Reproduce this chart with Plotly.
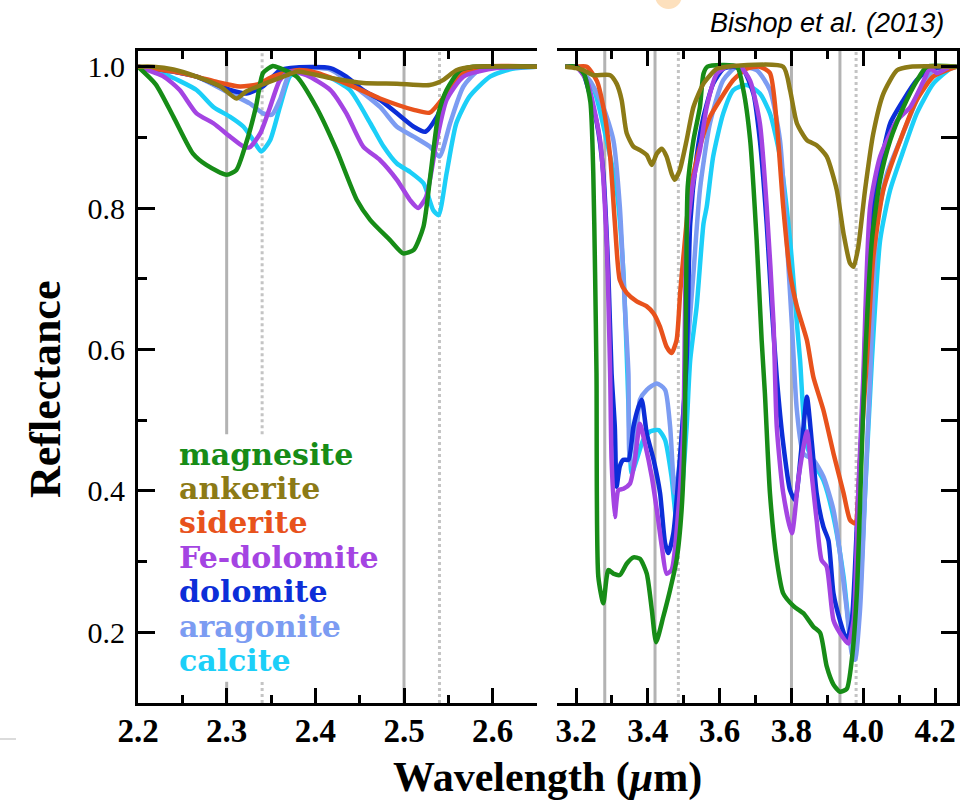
import plotly.graph_objects as go

# ---------------- data ----------------
SERIES = ["magnesite", "ankerite", "siderite", "Fe-dolomite", "dolomite", "aragonite", "calcite"]
COLORS = ["#178c17", "#8c7a16", "#e8521c", "#a444e2", "#0c2ed8", "#7c9cf2", "#1ccff8"]

# left panel (2.2 - 2.65 um)
magnesite_l_wl = [2.200, 2.220, 2.240, 2.262, 2.277, 2.300, 2.311, 2.322, 2.333, 2.341, 2.352, 2.360, 2.379, 2.401, 2.424, 2.447, 2.462, 2.484, 2.499, 2.511, 2.522, 2.530, 2.539, 2.548, 2.563, 2.578, 2.650]
magnesite_l_r = [1.000, 0.975, 0.929, 0.877, 0.861, 0.847, 0.854, 0.892, 0.943, 0.991, 1.001, 0.998, 0.986, 0.943, 0.882, 0.811, 0.783, 0.755, 0.736, 0.741, 0.774, 0.849, 0.934, 0.967, 0.995, 1.000, 1.000]
ankerite_l_wl = [2.200, 2.217, 2.240, 2.266, 2.293, 2.311, 2.322, 2.345, 2.368, 2.379, 2.417, 2.454, 2.492, 2.529, 2.544, 2.559, 2.578, 2.650]
ankerite_l_r = [1.000, 1.000, 0.996, 0.986, 0.972, 0.955, 0.965, 0.977, 0.988, 0.993, 0.984, 0.977, 0.976, 0.974, 0.981, 0.995, 1.000, 1.000]
siderite_l_wl = [2.200, 2.240, 2.266, 2.290, 2.315, 2.335, 2.352, 2.379, 2.400, 2.435, 2.473, 2.511, 2.529, 2.548, 2.567, 2.590, 2.650]
siderite_l_r = [1.000, 0.993, 0.986, 0.978, 0.972, 0.975, 0.986, 0.995, 0.992, 0.976, 0.955, 0.939, 0.935, 0.962, 0.991, 1.000, 1.000]
fedolomite_l_wl = [2.200, 2.229, 2.247, 2.266, 2.285, 2.304, 2.319, 2.326, 2.338, 2.349, 2.360, 2.371, 2.390, 2.417, 2.435, 2.454, 2.473, 2.492, 2.507, 2.516, 2.525, 2.537, 2.548, 2.567, 2.604, 2.650]
fedolomite_l_r = [1.000, 0.986, 0.967, 0.934, 0.920, 0.901, 0.887, 0.886, 0.906, 0.943, 0.981, 0.993, 0.988, 0.967, 0.934, 0.887, 0.868, 0.840, 0.811, 0.800, 0.816, 0.896, 0.953, 0.986, 0.998, 1.000]
dolomite_l_wl = [2.200, 2.240, 2.266, 2.304, 2.322, 2.341, 2.360, 2.379, 2.417, 2.435, 2.454, 2.473, 2.492, 2.511, 2.524, 2.537, 2.552, 2.567, 2.590, 2.650]
dolomite_l_r = [1.000, 0.993, 0.986, 0.967, 0.962, 0.972, 0.995, 0.999, 0.998, 0.986, 0.967, 0.953, 0.934, 0.915, 0.908, 0.929, 0.972, 0.995, 1.000, 1.000]
aragonite_l_wl = [2.200, 2.240, 2.266, 2.304, 2.326, 2.341, 2.351, 2.360, 2.371, 2.382, 2.417, 2.435, 2.473, 2.492, 2.511, 2.529, 2.540, 2.552, 2.567, 2.585, 2.650]
aragonite_l_r = [1.000, 0.993, 0.986, 0.962, 0.948, 0.934, 0.932, 0.953, 0.991, 0.998, 0.996, 0.981, 0.943, 0.915, 0.901, 0.887, 0.873, 0.920, 0.972, 0.995, 1.000]
calcite_l_wl = [2.200, 2.229, 2.266, 2.285, 2.304, 2.319, 2.330, 2.339, 2.349, 2.360, 2.371, 2.379, 2.417, 2.439, 2.462, 2.477, 2.492, 2.507, 2.522, 2.533, 2.539, 2.548, 2.559, 2.574, 2.597, 2.622, 2.650]
calcite_l_r = [1.000, 0.990, 0.967, 0.943, 0.929, 0.915, 0.896, 0.880, 0.896, 0.943, 0.986, 0.993, 0.984, 0.967, 0.920, 0.887, 0.863, 0.851, 0.835, 0.797, 0.790, 0.849, 0.920, 0.958, 0.986, 0.997, 1.000]

# right panel (3.15 - 4.26 um)
magnesite_r_wl = [3.170, 3.200, 3.222, 3.240, 3.248, 3.253, 3.257, 3.262, 3.276, 3.290, 3.304, 3.322, 3.341, 3.360, 3.378, 3.397, 3.411, 3.423, 3.443, 3.462, 3.480, 3.494, 3.503, 3.507, 3.511, 3.527, 3.545, 3.555, 3.566, 3.648, 3.666, 3.685, 3.703, 3.717, 3.726, 3.740, 3.759, 3.777, 3.806, 3.833, 3.861, 3.880, 3.898, 3.917, 3.935, 3.954, 3.968, 3.982, 3.995, 4.005, 4.024, 4.047, 4.075, 4.112, 4.149, 4.177, 4.260]
magnesite_r_r = [1.000, 1.000, 0.990, 0.950, 0.850, 0.710, 0.566, 0.279, 0.241, 0.288, 0.283, 0.281, 0.297, 0.306, 0.304, 0.283, 0.232, 0.186, 0.222, 0.260, 0.302, 0.373, 0.491, 0.700, 0.830, 0.896, 0.943, 0.990, 1.000, 1.000, 0.967, 0.896, 0.755, 0.613, 0.538, 0.397, 0.302, 0.255, 0.237, 0.227, 0.208, 0.199, 0.152, 0.126, 0.116, 0.120, 0.161, 0.255, 0.444, 0.585, 0.755, 0.840, 0.896, 0.943, 0.980, 1.000, 1.000]
ankerite_r_wl = [3.170, 3.200, 3.220, 3.248, 3.295, 3.313, 3.327, 3.341, 3.360, 3.378, 3.397, 3.411, 3.425, 3.439, 3.452, 3.466, 3.475, 3.489, 3.508, 3.527, 3.555, 3.592, 3.620, 3.777, 3.796, 3.815, 3.843, 3.870, 3.898, 3.926, 3.945, 3.963, 3.973, 3.986, 4.005, 4.028, 4.056, 4.094, 4.131, 4.260]
ankerite_r_r = [1.000, 0.998, 0.995, 0.988, 0.988, 0.976, 0.953, 0.906, 0.887, 0.882, 0.875, 0.861, 0.877, 0.884, 0.873, 0.849, 0.840, 0.854, 0.896, 0.943, 0.976, 0.997, 1.000, 1.000, 0.967, 0.920, 0.896, 0.889, 0.873, 0.826, 0.764, 0.722, 0.717, 0.745, 0.826, 0.906, 0.962, 0.995, 1.000, 1.000]
siderite_r_wl = [3.170, 3.200, 3.230, 3.258, 3.276, 3.295, 3.308, 3.322, 3.341, 3.369, 3.397, 3.416, 3.434, 3.452, 3.466, 3.480, 3.490, 3.499, 3.518, 3.545, 3.573, 3.601, 3.638, 3.675, 3.712, 3.740, 3.759, 3.777, 3.796, 3.815, 3.843, 3.861, 3.889, 3.917, 3.945, 3.963, 3.977, 3.991, 4.010, 4.028, 4.056, 4.103, 4.149, 4.195, 4.242, 4.260]
siderite_r_r = [1.000, 1.000, 1.000, 0.980, 0.943, 0.873, 0.780, 0.698, 0.680, 0.668, 0.661, 0.651, 0.632, 0.604, 0.595, 0.613, 0.680, 0.731, 0.826, 0.887, 0.929, 0.953, 0.981, 0.997, 1.000, 0.991, 0.920, 0.802, 0.708, 0.661, 0.613, 0.561, 0.514, 0.453, 0.397, 0.359, 0.354, 0.444, 0.585, 0.731, 0.826, 0.896, 0.953, 0.986, 0.997, 1.000]
fedolomite_r_wl = [3.170, 3.200, 3.230, 3.267, 3.285, 3.295, 3.299, 3.308, 3.318, 3.332, 3.350, 3.364, 3.378, 3.392, 3.411, 3.425, 3.439, 3.452, 3.466, 3.485, 3.499, 3.508, 3.527, 3.545, 3.564, 3.592, 3.620, 3.657, 3.685, 3.712, 3.731, 3.750, 3.759, 3.777, 3.801, 3.820, 3.843, 3.857, 3.870, 3.884, 3.898, 3.917, 3.935, 3.958, 3.973, 3.986, 4.000, 4.019, 4.047, 4.094, 4.131, 4.168, 4.186, 4.205, 4.242, 4.260]
fedolomite_r_r = [1.000, 1.000, 0.980, 0.896, 0.755, 0.566, 0.444, 0.363, 0.401, 0.403, 0.410, 0.444, 0.495, 0.467, 0.420, 0.373, 0.321, 0.283, 0.288, 0.373, 0.491, 0.755, 0.840, 0.882, 0.943, 0.990, 1.000, 1.000, 0.980, 0.920, 0.802, 0.637, 0.491, 0.397, 0.340, 0.420, 0.484, 0.420, 0.359, 0.302, 0.293, 0.217, 0.199, 0.184, 0.217, 0.397, 0.561, 0.802, 0.873, 0.924, 0.943, 0.980, 0.998, 0.991, 1.000, 1.000]
dolomite_r_wl = [3.170, 3.200, 3.220, 3.258, 3.276, 3.290, 3.299, 3.308, 3.313, 3.322, 3.332, 3.346, 3.360, 3.374, 3.383, 3.397, 3.416, 3.434, 3.448, 3.457, 3.471, 3.489, 3.508, 3.518, 3.536, 3.555, 3.582, 3.610, 3.638, 3.666, 3.694, 3.712, 3.731, 3.745, 3.759, 3.777, 3.796, 3.810, 3.829, 3.843, 3.857, 3.870, 3.889, 3.903, 3.917, 3.935, 3.954, 3.968, 3.982, 4.000, 4.019, 4.047, 4.075, 4.112, 4.149, 4.186, 4.260]
dolomite_r_r = [1.000, 1.000, 0.990, 0.920, 0.849, 0.708, 0.566, 0.491, 0.406, 0.435, 0.444, 0.444, 0.491, 0.519, 0.529, 0.481, 0.444, 0.397, 0.326, 0.312, 0.340, 0.444, 0.585, 0.778, 0.873, 0.929, 0.976, 0.997, 1.000, 0.995, 0.962, 0.896, 0.778, 0.661, 0.561, 0.467, 0.401, 0.387, 0.467, 0.533, 0.467, 0.397, 0.349, 0.330, 0.255, 0.217, 0.189, 0.217, 0.349, 0.538, 0.778, 0.859, 0.920, 0.953, 0.981, 0.997, 1.000]
aragonite_r_wl = [3.170, 3.200, 3.239, 3.276, 3.304, 3.322, 3.336, 3.346, 3.350, 3.360, 3.378, 3.397, 3.425, 3.448, 3.462, 3.475, 3.489, 3.508, 3.527, 3.545, 3.573, 3.610, 3.648, 3.703, 3.740, 3.768, 3.787, 3.801, 3.815, 3.833, 3.861, 3.889, 3.917, 3.935, 3.954, 3.968, 3.977, 3.991, 4.005, 4.019, 4.038, 4.066, 4.103, 4.149, 4.195, 4.260]
aragonite_r_r = [1.000, 1.000, 0.980, 0.943, 0.896, 0.802, 0.661, 0.566, 0.444, 0.435, 0.529, 0.543, 0.552, 0.543, 0.491, 0.397, 0.440, 0.585, 0.708, 0.826, 0.920, 0.981, 1.000, 0.995, 0.967, 0.896, 0.755, 0.637, 0.514, 0.453, 0.444, 0.420, 0.373, 0.312, 0.232, 0.170, 0.161, 0.232, 0.397, 0.561, 0.778, 0.849, 0.896, 0.953, 0.995, 1.000]
calcite_r_wl = [3.170, 3.200, 3.248, 3.285, 3.313, 3.332, 3.343, 3.348, 3.355, 3.369, 3.387, 3.406, 3.430, 3.448, 3.466, 3.480, 3.494, 3.508, 3.518, 3.536, 3.555, 3.564, 3.582, 3.610, 3.638, 3.675, 3.712, 3.740, 3.768, 3.796, 3.815, 3.824, 3.840, 3.861, 3.889, 3.917, 3.945, 3.963, 3.977, 3.991, 4.005, 4.024, 4.047, 4.075, 4.112, 4.149, 4.195, 4.242, 4.260]
calcite_r_r = [1.000, 1.000, 0.970, 0.896, 0.826, 0.708, 0.566, 0.491, 0.425, 0.444, 0.472, 0.484, 0.486, 0.472, 0.420, 0.359, 0.397, 0.491, 0.585, 0.661, 0.778, 0.802, 0.873, 0.934, 0.967, 0.974, 0.962, 0.934, 0.873, 0.755, 0.637, 0.585, 0.470, 0.440, 0.415, 0.363, 0.279, 0.200, 0.180, 0.255, 0.397, 0.585, 0.755, 0.826, 0.882, 0.934, 0.976, 0.997, 1.000]

# absorption band positions (um)
BANDS_LEFT_SOLID = [2.30, 2.50]
BANDS_LEFT_DASHED = [2.34, 2.54]
BANDS_RIGHT_SOLID = [3.28, 3.42, 3.80, 3.935]
BANDS_RIGHT_DASHED = [3.485, 3.98]
BANDS_BEHIND_LABELS = [2.30, 2.34]   # these are interrupted by the label block
LABEL_GAP = [0.13, 0.48]             # reflectance span of the label block

X_LEFT_TICKS = [2.2, 2.3, 2.4, 2.5, 2.6]
X_RIGHT_TICKS = [3.2, 3.4, 3.6, 3.8, 4.0, 4.2]
Y_TICKS = [0.2, 0.4, 0.6, 0.8, 1.0]

LEFT_RANGE = [2.2, 2.65]
RIGHT_RANGE = [3.147, 4.261]
Y_RANGE = [0.1, 1.0226]

left_data = [(magnesite_l_wl, magnesite_l_r), (ankerite_l_wl, ankerite_l_r), (siderite_l_wl, siderite_l_r),
             (fedolomite_l_wl, fedolomite_l_r), (dolomite_l_wl, dolomite_l_r), (aragonite_l_wl, aragonite_l_r),
             (calcite_l_wl, calcite_l_r)]
right_data = [(magnesite_r_wl, magnesite_r_r), (ankerite_r_wl, ankerite_r_r), (siderite_r_wl, siderite_r_r),
              (fedolomite_r_wl, fedolomite_r_r), (dolomite_r_wl, dolomite_r_r), (aragonite_r_wl, aragonite_r_r),
              (calcite_r_wl, calcite_r_r)]

# ---------------- figure ----------------
W, H = 960, 805
fig = go.Figure()

# draw order: bottom -> top
order = [6, 5, 4, 2, 3, 0, 1]
for i in order:
    for (wl, r), xa in ((left_data[i], "x"), (right_data[i], "x2")):
        assert len(wl) == len(r)
        fig.add_trace(go.Scatter(x=wl, y=r, xaxis=xa, yaxis="y" if xa == "x" else "y2",
                                 mode="lines", line=dict(color=COLORS[i], width=4.5, shape="spline", smoothing=0.6),
                                 name=SERIES[i], showlegend=False, hoverinfo="skip"))

GRAY = "#b3b3b3"
def vline(x, xref, yref, dashed, y0=None, y1=None):
    fig.add_shape(type="line", xref=xref, yref=yref, x0=x, x1=x,
                  y0=Y_RANGE[0] if y0 is None else y0, y1=Y_RANGE[1] if y1 is None else y1,
                  line=dict(color="#c4c4c4" if dashed else GRAY, width=3, dash="dot" if dashed else "solid"),
                  layer="below")

for xs, dashed in ((BANDS_LEFT_SOLID, False), (BANDS_LEFT_DASHED, True)):
    for x in xs:
        if x in BANDS_BEHIND_LABELS:
            vline(x, "x", "y", dashed, Y_RANGE[0], LABEL_GAP[0])
            vline(x, "x", "y", dashed, LABEL_GAP[1], Y_RANGE[1])
        else:
            vline(x, "x", "y", dashed)
for xs, dashed in ((BANDS_RIGHT_SOLID, False), (BANDS_RIGHT_DASHED, True)):
    for x in xs:
        vline(x, "x2", "y2", dashed)

# geometry (pixels)
L0, L1, R0, R1 = 138, 537, 557, 957
TOP, BOT = 50.7, 703
yd = [(H - BOT) / H, (H - TOP) / H]

axis_common = dict(showline=True, linewidth=3, linecolor="black", ticks="inside", tickwidth=3,
                   tickcolor="black", showgrid=False, zeroline=False, automargin=False)
xfont = dict(family="Liberation Serif", size=33, color="black", weight="bold")

fig.update_layout(
    width=W, height=H, margin=dict(l=0, r=0, t=0, b=0, pad=0, autoexpand=False),
    paper_bgcolor="white", plot_bgcolor="white", showlegend=False,
    xaxis=dict(domain=[L0 / W, L1 / W], range=LEFT_RANGE, anchor="y", mirror="ticks",
               tickmode="array", tickvals=X_LEFT_TICKS, ticktext=[f"{v:.1f}" for v in X_LEFT_TICKS],
               ticklen=15, tickfont=xfont, ticklabelstandoff=-4,
               minor=dict(dtick=0.05, tick0=2.2, ticklen=8, tickwidth=3, tickcolor="black", ticks="inside"),
               **axis_common),
    xaxis2=dict(domain=[R0 / W, R1 / W], range=RIGHT_RANGE, anchor="y2", mirror="ticks",
                tickmode="array", tickvals=X_RIGHT_TICKS, ticktext=[f"{v:.1f}" for v in X_RIGHT_TICKS],
                ticklen=15, tickfont=xfont, ticklabelstandoff=-4,
                minor=dict(dtick=0.1, tick0=3.2, ticklen=8, tickwidth=3, tickcolor="black", ticks="inside"),
                **axis_common),
    yaxis=dict(domain=yd, range=Y_RANGE, anchor="x", mirror=False,
               tickmode="array", tickvals=Y_TICKS, ticktext=[f"{v:.1f}" for v in Y_TICKS],
               ticklen=17, tickfont=dict(family="Liberation Serif", size=30, color="black"),
               ticklabelstandoff=4,
               minor=dict(dtick=0.1, tick0=0.1, ticklen=9, tickwidth=3, tickcolor="black", ticks="inside"),
               **axis_common),
    yaxis2=dict(domain=yd, range=Y_RANGE, anchor="x2", side="right", mirror=False,
                tickmode="linear", tick0=0.1, dtick=0.1, ticklen=16, showticklabels=False,
                **axis_common),
)

# label block (coloured names)
label_x = 177
baselines = [464, 498, 532, 567, 601, 636, 670]
LFS = 30
for i, name in enumerate(SERIES):
    fig.add_annotation(xref="paper", yref="paper", x=label_x / W, y=(H - (baselines[i] - 0.33 * LFS)) / H,
                       xanchor="left", yanchor="middle", showarrow=False, text=f"<b>{name}</b>",
                       font=dict(family="DejaVu Serif", size=LFS, color=COLORS[i]))

# axis titles
fig.add_annotation(xref="paper", yref="paper", x=547 / W, y=(H - 777) / H, showarrow=False,
                   xanchor="center", yanchor="middle",
                   text="<b>Wavelength (<i>\u03bc</i>m)</b>",
                   font=dict(family="Liberation Serif", size=42, color="black"))
fig.add_annotation(xref="paper", yref="paper", x=45 / W, y=(H - 390) / H, showarrow=False,
                   xanchor="center", yanchor="middle", textangle=-90, text="<b>Reflectance</b>",
                   font=dict(family="Liberation Serif", size=44, color="black"))
# citation
fig.add_annotation(xref="paper", yref="paper", x=946 / W, y=(H - 23) / H, showarrow=False,
                   xanchor="right", yanchor="middle", text="<i>Bishop et al. (2013)</i>",
                   font=dict(family="Liberation Sans", size=27, color="black"))

# slide decorations
fig.add_shape(type="circle", xref="paper", yref="paper", x0=655 / W, x1=682 / W,
              y0=(H - 9) / H, y1=(H + 18) / H, fillcolor="#fde0bd", line=dict(width=0), layer="below")
fig.add_shape(type="line", xref="paper", yref="paper", x0=0, x1=16 / W, y0=(H - 739) / H, y1=(H - 739) / H,
              line=dict(color="#cfcfcf", width=1.5))

# remove the browser's default 8px page margin so the figure sits at the window origin
fig.write_html("out.html", config={"displayModeBar": False, "staticPlot": True},
               post_script="document.body.style.margin='0';document.body.style.overflow='hidden';")
